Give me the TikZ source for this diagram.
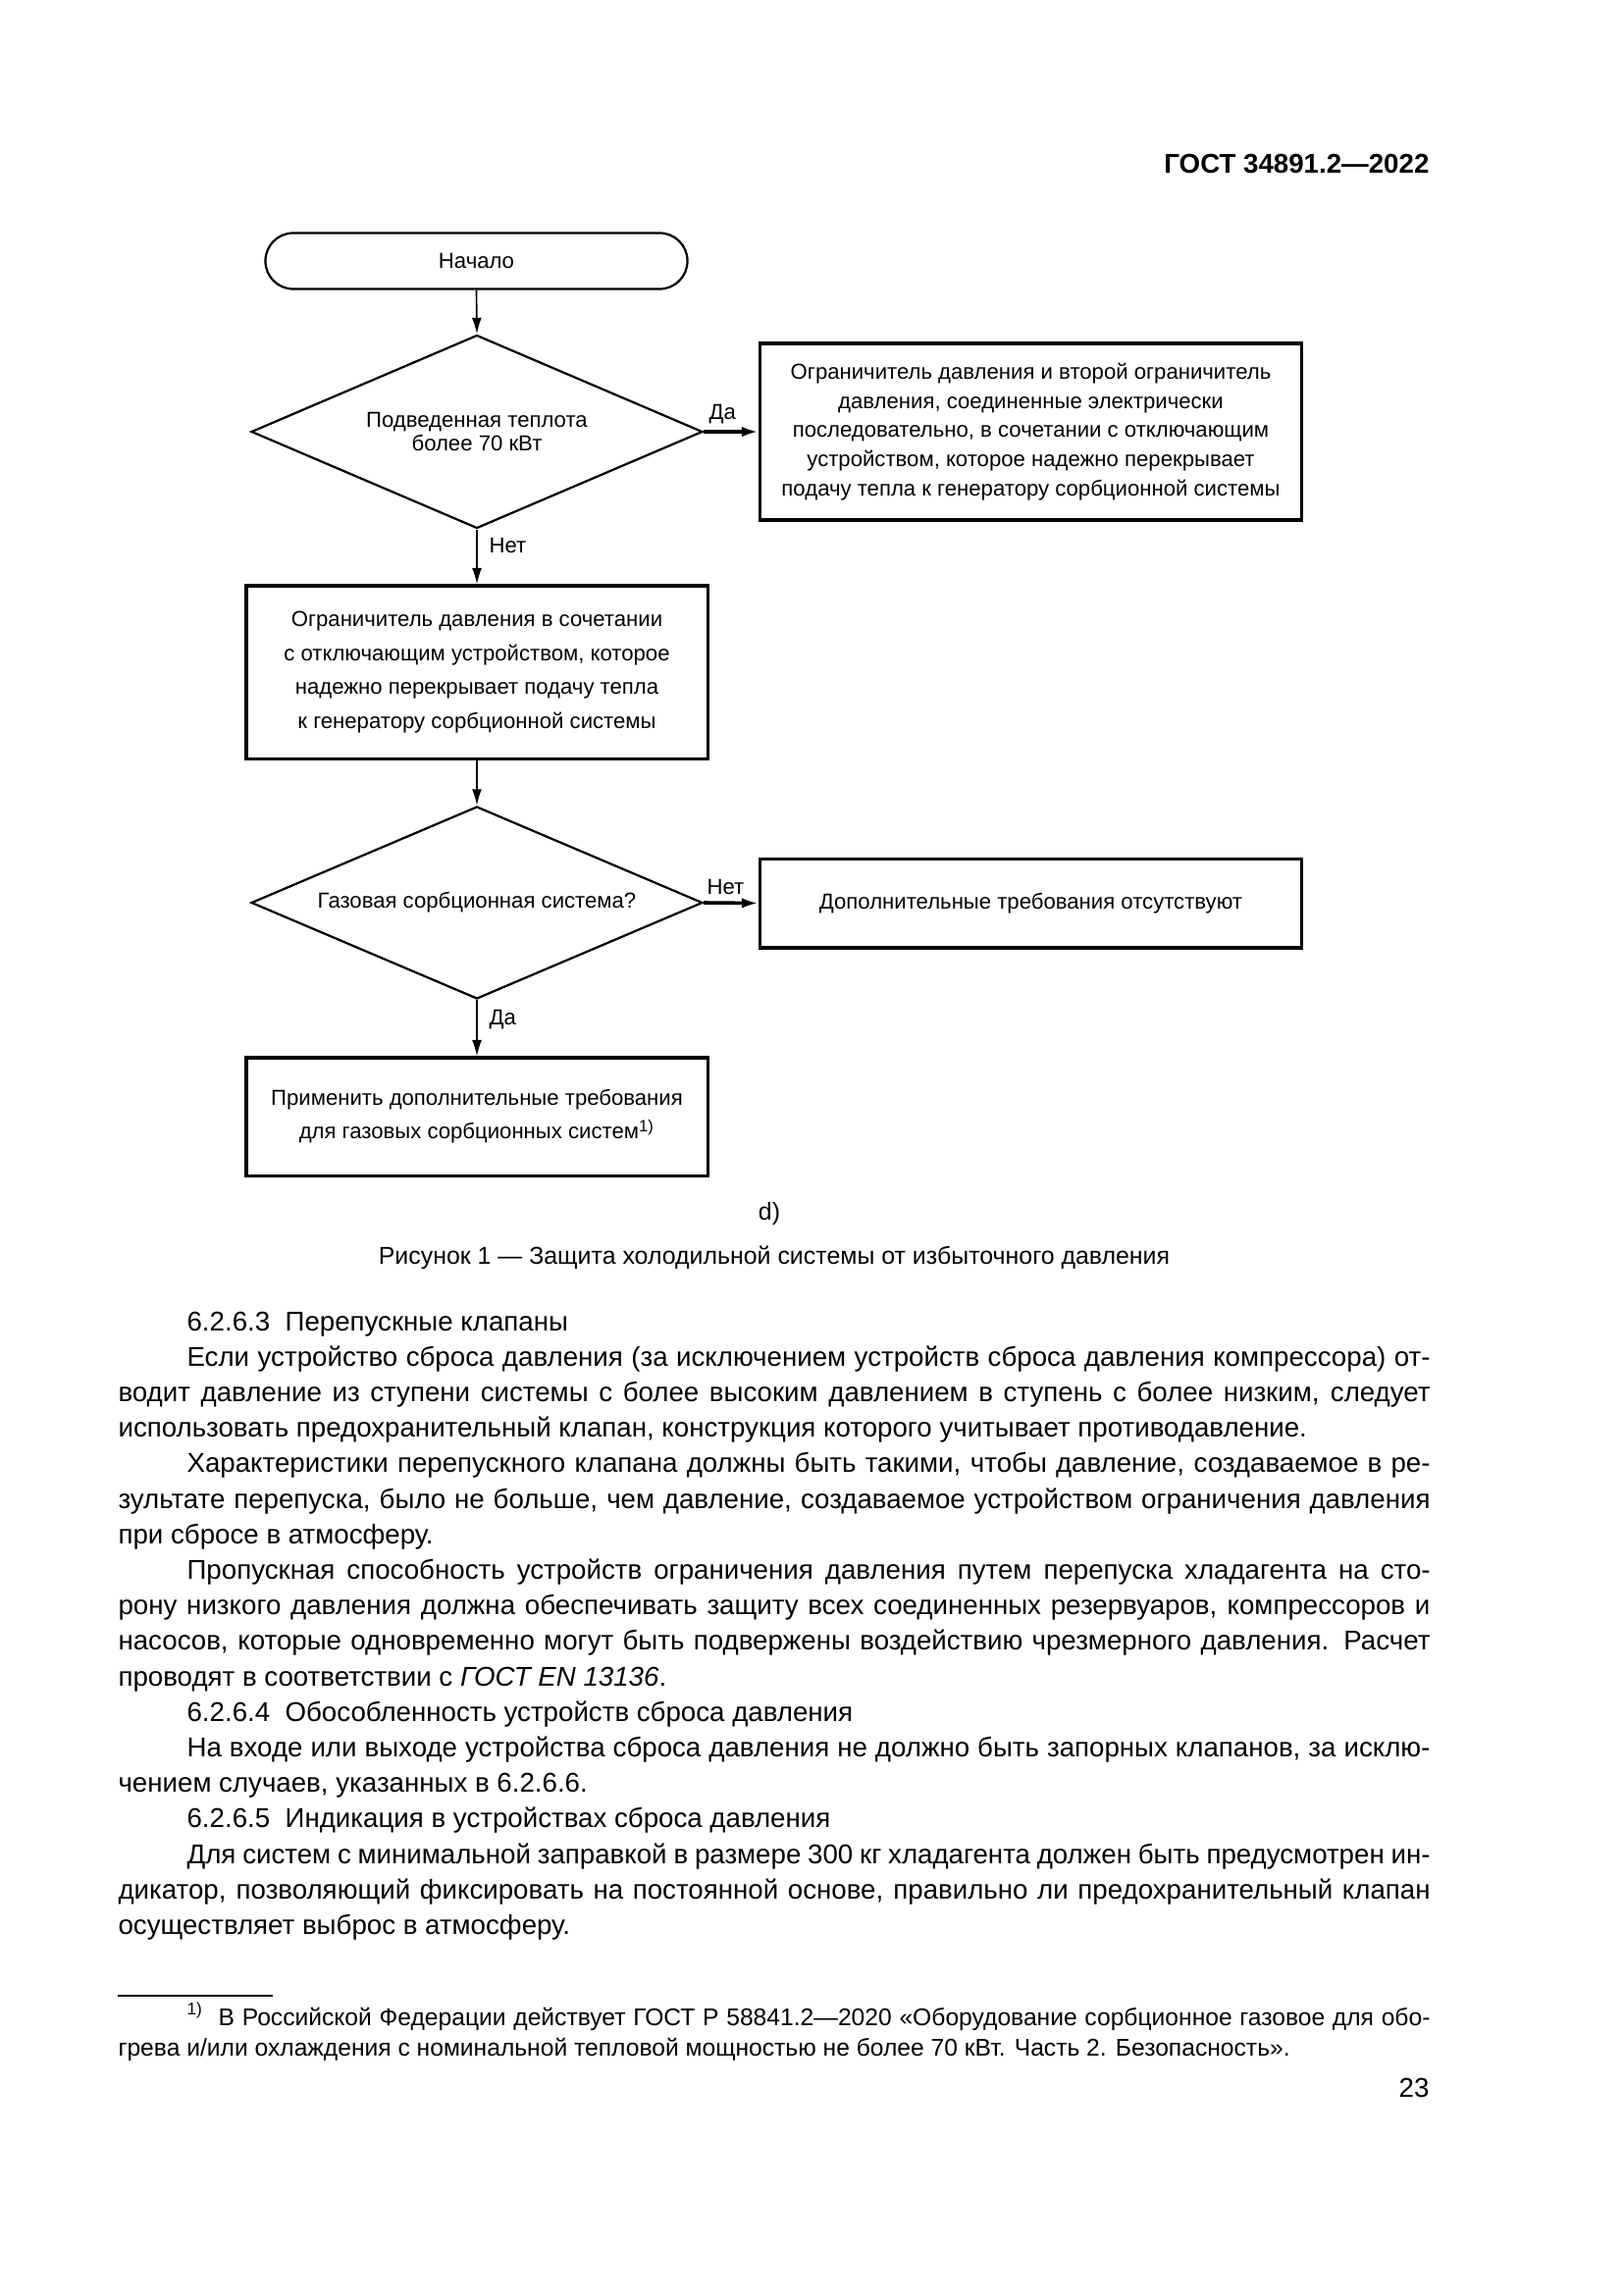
\documentclass[tikz,border=0pt]{standalone}
\usepackage{fontspec}
\setmainfont{Liberation Sans}
\usetikzlibrary{shapes.geometric,arrows.meta}
\newcommand\fz[2]{\fontsize{#1}{#2}\selectfont}
\newlength\myind
\setlength\myind{25.3pt}
\newcommand\jline[1]{\makebox[\linewidth][s]{#1}\par}
\newcommand\jind[1]{\hspace*{\myind}\makebox[\dimexpr\linewidth-\myind\relax][s]{#1}\par}
\newcommand\lline[1]{\makebox[\linewidth][l]{#1}\par}
\newcommand\lind[1]{\hspace*{\myind}\makebox[\dimexpr\linewidth-\myind\relax][l]{#1}\par}
\begin{document}
\begin{tikzpicture}[x=0.12697mm,y=-0.12697mm,
  box/.style={draw,line width=1.1pt,inner sep=0pt,align=center,font=\fz{8}{10.7}},
  dec/.style={draw,diamond,line width=0.8pt,inner sep=0pt,aspect=2.355,align=center,font=\fz{8}{9}},
  flow/.style={line width=0.6pt,-{Latex[length=6pt,width=3.6pt]}},
  hflow/.style={line width=1.3pt,-{Latex[length=6pt,width=3.8pt]}},
  lab/.style={font=\fz{8}{10},inner sep=0pt}]
\useasboundingbox (0,0) rectangle (1654,2339);
% header
\node[anchor=base east,inner sep=0pt,font=\fz{10}{12}\bfseries] (hdr) at (1457,176) {ГОСТ 34891.2—2022};
% flowchart
\node[draw,line width=0.8pt,rounded corners=3.6mm,minimum width=54.6mm,minimum height=7.24mm,inner sep=0pt,font=\fz{8}{10}] (start) at (485.5,266) {Начало};
\node[dec,minimum width=58.4mm,minimum height=25.01mm] (d1) at (486,440) {Подведенная теплота\\ более 70 кВт};
\node[box,minimum width=70.2mm,minimum height=22.85mm] (r1) at (1050.5,440) {Ограничитель давления и второй ограничитель\\ давления, соединенные электрически\\ последовательно, в сочетании с отключающим\\ устройством, которое надежно перекрывает\\ подачу тепла к генератору сорбционной системы};
\node[box,minimum width=59.68mm,minimum height=22.35mm,font=\fz{8}{12.6}] (b2) at (486,685) {Ограничитель давления в сочетании\\ с отключающим устройством, которое\\ надежно перекрывает подачу тепла\\ к генератору сорбционной системы};
\node[dec,minimum width=58.4mm,minimum height=24.89mm] (d2) at (486,920) {Газовая сорбционная система?};
\node[box,minimum width=70.2mm,minimum height=11.55mm] (r2) at (1050.5,920.5) {Дополнительные требования отсутствуют};
\node[box,minimum width=59.68mm,minimum height=15.24mm,font=\fz{8}{12.3}] (b3) at (486,1138) {\raisebox{1.2pt}{\parbox{55mm}{\centering Применить дополнительные требования\\ для газовых сорбционных систем\textsuperscript{1)}}}};
\draw[flow] (start.south) -- (d1.north);
\draw[hflow] (d1.east) -- (r1.west);
\draw[flow] (d1.south) -- (b2.north);
\draw[flow] (b2.south) -- (d2.north);
\draw[hflow] (d2.east) -- (r2.west);
\draw[flow] (d2.south) -- (b3.north);
\node[lab,anchor=west] (l1) at (722,422) {Да};
\node[lab,anchor=west] (l2) at (498,556) {Нет};
\node[lab,anchor=west] (l3) at (720,904) {Нет};
\node[lab,anchor=west] (l4) at (498,1039) {Да};
\node[inner sep=0pt,font=\fz{9}{11}] (sub) at (784,1237) {d)};
\node[inner sep=0pt,font=\fz{9}{11}] (cap) at (789,1282) {Рисунок 1 — Защита холодильной системы от избыточного давления};
% body text
\node[anchor=base west,inner sep=0pt] (body) at (120,1356) {\parbox[t]{169.76mm}{\fz{10}{13.08}\setlength\parindent{0pt}%
\lind{6.2.6.3\ \ Перепускные клапаны}
\jind{Если устройство сброса давления (за исключением устройств сброса давления компрессора) от-}
\jline{водит давление из ступени системы с более высоким давлением в ступень с более низким, следует}
\lline{использовать предохранительный клапан, конструкция которого учитывает противодавление.}
\jind{Характеристики перепускного клапана должны быть такими, чтобы давление, создаваемое в ре-}
\jline{зультате перепуска, было не больше, чем давление, создаваемое устройством ограничения давления}
\lline{при сбросе в атмосферу.}
\jind{Пропускная способность устройств ограничения давления путем перепуска хладагента на сто-}
\jline{рону низкого давления должна обеспечивать защиту всех соединенных резервуаров, компрессоров и}
\jline{насосов, которые одновременно могут быть подвержены воздействию чрезмерного давления. Расчет}
\lline{проводят в соответствии с \textit{ГОСТ EN 13136}.}
\lind{6.2.6.4\ \ Обособленность устройств сброса давления}
\jind{На входе или выходе устройства сброса давления не должно быть запорных клапанов, за исклю-}
\lline{чением случаев, указанных в 6.2.6.6.}
\lind{6.2.6.5\ \ Индикация в устройствах сброса давления}
\jind{Для систем с минимальной заправкой в размере 300 кг хладагента должен быть предусмотрен ин-}
\jline{дикатор, позволяющий фиксировать на постоянной основе, правильно ли предохранительный клапан}
\lline{осуществляет выброс в атмосферу.}}};
% footnote
\coordinate (fa) at (120,2034);
\coordinate (fb) at (278,2034);
\draw[line width=1pt] (fa) -- (fb);
\node[anchor=base west,inner sep=0pt] (foot) at (120,2064) {\parbox[t]{169.76mm}{\fz{8.9}{11.2}\setlength\parindent{0pt}%
\jind{\textsuperscript{1)}\ \ В Российской Федерации действует ГОСТ Р 58841.2—2020 «Оборудование сорбционное газовое для обо-}
\lline{грева и/или охлаждения с номинальной тепловой мощностью не более 70 кВт. Часть 2. Безопасность».}}};
\node[anchor=base east,inner sep=0pt,font=\fz{10}{12}] (pg) at (1457,2137) {23};
\end{tikzpicture}
\end{document}
